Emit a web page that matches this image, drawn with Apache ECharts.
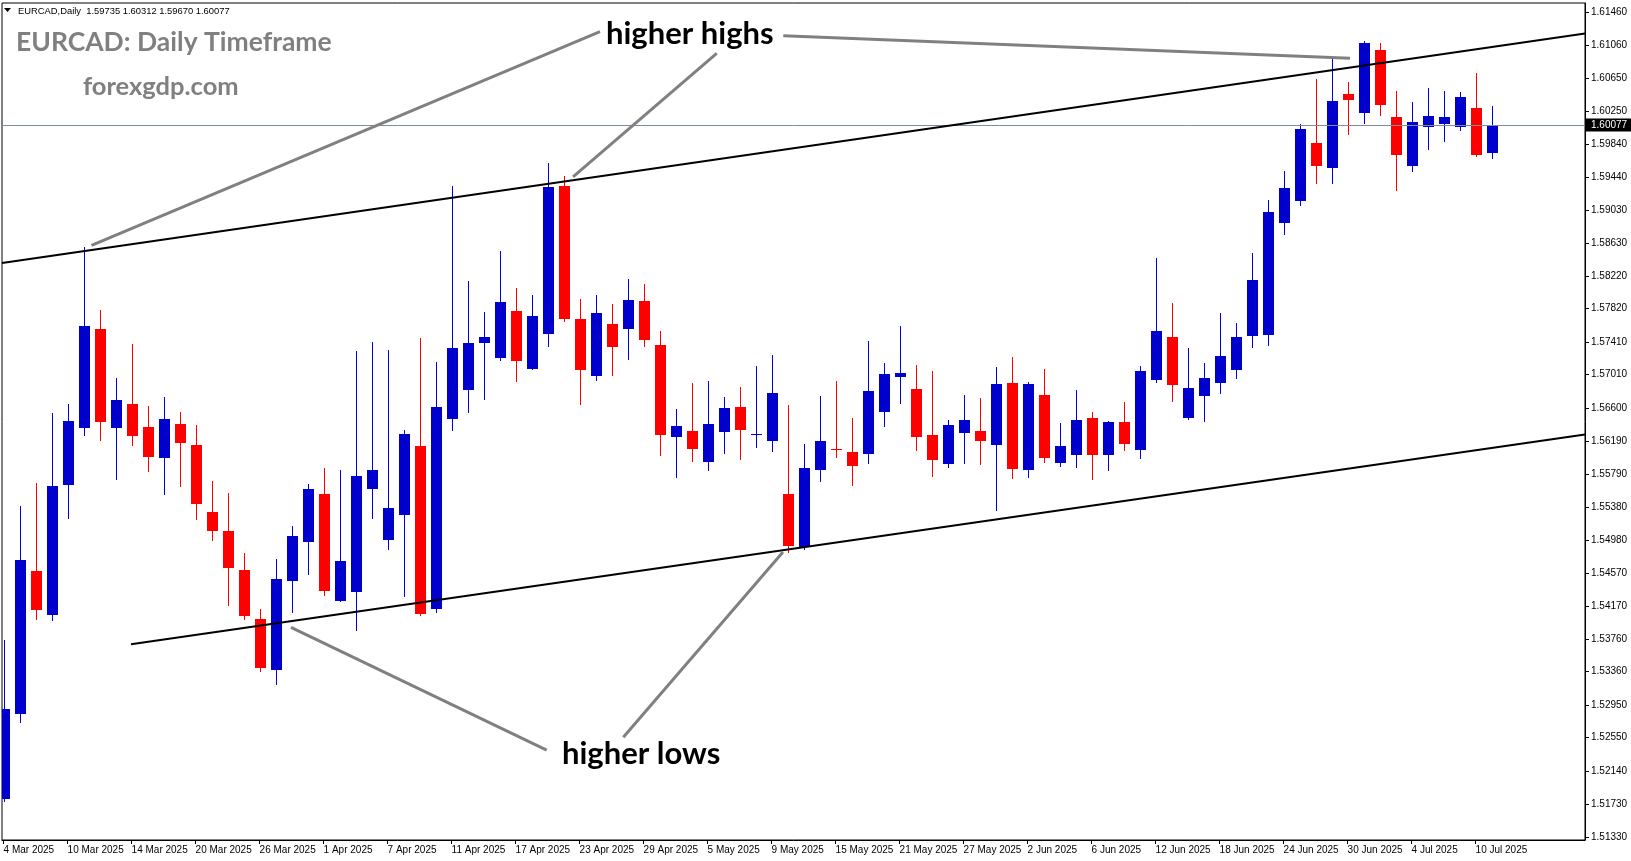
<!DOCTYPE html>
<html>
<head>
<meta charset="utf-8">
<script src="https://cdn.jsdelivr.net/npm/echarts@6/dist/echarts.min.js"></script>
<style>
html,body{margin:0;padding:0;background:#fff;}
#chart{width:1631px;height:861px;}
</style>
</head>
<body>
<div id="chart"></div>
<script>
// ---------- DATA ----------
const dates = [
 '4 Mar 2025','5 Mar 2025','6 Mar 2025','7 Mar 2025','10 Mar 2025','11 Mar 2025','12 Mar 2025','13 Mar 2025','14 Mar 2025','17 Mar 2025',
 '18 Mar 2025','19 Mar 2025','20 Mar 2025','21 Mar 2025','24 Mar 2025','25 Mar 2025','26 Mar 2025','27 Mar 2025','28 Mar 2025','31 Mar 2025',
 '1 Apr 2025','2 Apr 2025','3 Apr 2025','4 Apr 2025','7 Apr 2025','8 Apr 2025','9 Apr 2025','10 Apr 2025','11 Apr 2025','14 Apr 2025',
 '15 Apr 2025','16 Apr 2025','17 Apr 2025','18 Apr 2025','21 Apr 2025','22 Apr 2025','23 Apr 2025','24 Apr 2025','25 Apr 2025','28 Apr 2025',
 '29 Apr 2025','30 Apr 2025','1 May 2025','2 May 2025','5 May 2025','6 May 2025','7 May 2025','8 May 2025','9 May 2025','12 May 2025',
 '13 May 2025','14 May 2025','15 May 2025','16 May 2025','19 May 2025','20 May 2025','21 May 2025','22 May 2025','23 May 2025','26 May 2025',
 '27 May 2025','28 May 2025','29 May 2025','30 May 2025','2 Jun 2025','3 Jun 2025','4 Jun 2025','5 Jun 2025','6 Jun 2025','9 Jun 2025',
 '10 Jun 2025','11 Jun 2025','12 Jun 2025','13 Jun 2025','16 Jun 2025','17 Jun 2025','18 Jun 2025','19 Jun 2025','20 Jun 2025','23 Jun 2025',
 '24 Jun 2025','25 Jun 2025','26 Jun 2025','27 Jun 2025','30 Jun 2025','1 Jul 2025','2 Jul 2025','3 Jul 2025','4 Jul 2025','7 Jul 2025',
 '8 Jul 2025','9 Jul 2025','10 Jul 2025','11 Jul 2025'
];
const open = [
 1.51796,1.52846,1.54598,1.54060,1.55659,1.56360,1.57571,1.56360,1.56650,1.56367,
 1.55991,1.56404,1.56146,1.55323,1.55089,1.54610,1.54008,1.53381,1.54477,1.54960,
 1.55544,1.54233,1.54340,1.55609,1.54982,1.55290,1.56134,1.54135,1.56469,1.56825,
 1.57403,1.57219,1.57792,1.57083,1.57513,1.59328,1.57694,1.56997,1.57633,1.57575,
 1.57915,1.57375,1.56248,1.56318,1.55941,1.56309,1.56613,1.56271,1.56199,1.55544,
 1.54889,1.55842,1.56097,1.56060,1.56039,1.56555,1.56985,1.56834,1.56269,1.55916,
 1.56297,1.56318,1.56150,1.56908,1.55842,1.56760,1.55928,1.56027,1.56478,1.56027,
 1.56429,1.56088,1.56948,1.57473,1.56481,1.56752,1.56911,1.57071,1.57489,1.57501,
 1.58877,1.59148,1.59857,1.59553,1.60459,1.60229,1.60999,1.60176,1.59578,1.60057,
 1.60094,1.60057,1.60287,1.59735
];
const high = [
 1.53750,1.55396,1.55679,1.56539,1.56650,1.58584,1.57805,1.56969,1.57387,1.56625,
 1.56736,1.56551,1.56392,1.55704,1.55556,1.54819,1.54131,1.54750,1.55151,1.55667,
 1.55863,1.55839,1.57301,1.57411,1.57313,1.56330,1.57461,1.57166,1.59328,1.58161,
 1.57780,1.58530,1.58075,1.57989,1.59611,1.59451,1.57940,1.57989,1.57878,1.58186,
 1.58124,1.57543,1.56588,1.56908,1.56932,1.56736,1.56859,1.57117,1.57252,1.56637,
 1.56158,1.56748,1.56932,1.56478,1.57424,1.57153,1.57608,1.57129,1.57055,1.56453,
 1.56760,1.56723,1.57104,1.57227,1.56920,1.57080,1.56416,1.56822,1.56551,1.56441,
 1.56674,1.57117,1.58444,1.57891,1.57338,1.57153,1.57768,1.57645,1.58505,1.59156,
 1.59513,1.60090,1.60643,1.60889,1.60606,1.61104,1.61085,1.60496,1.60360,1.60532,
 1.60496,1.60483,1.60717,1.60312
];
const low = [
 1.51772,1.52742,1.54008,1.54001,1.55249,1.56274,1.56210,1.55733,1.56151,1.55828,
 1.55546,1.55646,1.55242,1.54982,1.54182,1.54014,1.53373,1.53214,1.54096,1.54565,
 1.54307,1.54223,1.53873,1.55253,1.54872,1.54294,1.54053,1.54098,1.56334,1.56555,
 1.56715,1.57190,1.56936,1.57074,1.57366,1.57669,1.56653,1.56948,1.57010,1.57206,
 1.57366,1.56027,1.55756,1.55953,1.55842,1.56051,1.55978,1.56125,1.56076,1.54828,
 1.54864,1.55707,1.56002,1.55658,1.55928,1.56383,1.56666,1.56088,1.55769,1.55879,
 1.55928,1.55916,1.55351,1.55744,1.55756,1.55941,1.55892,1.55879,1.55732,1.55842,
 1.56088,1.55990,1.56924,1.56690,1.56471,1.56445,1.56789,1.56973,1.57354,1.57378,
 1.58742,1.59099,1.59369,1.59369,1.59971,1.60106,1.60204,1.59283,1.59516,1.59787,
 1.59885,1.60020,1.59700,1.59670
];
const close = [
 1.52902,1.54733,1.54123,1.55642,1.56441,1.57608,1.56432,1.56699,1.56260,1.56001,
 1.56465,1.56173,1.55415,1.55092,1.54637,1.54046,1.53410,1.54499,1.55028,1.55605,
 1.54356,1.54721,1.55765,1.55839,1.55372,1.56281,1.54073,1.56613,1.57338,1.57399,
 1.57473,1.57903,1.57182,1.57731,1.59316,1.57694,1.57071,1.57768,1.57354,1.57928,
 1.57440,1.56272,1.56379,1.56100,1.56404,1.56601,1.56334,1.56284,1.56785,1.54909,
 1.55863,1.56195,1.56088,1.55892,1.56809,1.57018,1.57031,1.56248,1.55965,1.56392,
 1.56453,1.56199,1.56895,1.55855,1.56895,1.55990,1.56134,1.56453,1.56027,1.56429,
 1.56162,1.57055,1.57547,1.56887,1.56846,1.56969,1.57239,1.57473,1.58173,1.59009,
 1.59304,1.60029,1.59578,1.60373,1.60389,1.61085,1.60327,1.59713,1.60115,1.60188,
 1.60176,1.60422,1.59713,1.60077
];
const priceTicks = [
 1.51330,1.51730,1.52140,1.52550,1.52950,1.53360,1.53760,1.54170,1.54570,1.54980,
 1.55380,1.55790,1.56190,1.56600,1.57010,1.57410,1.57820,1.58220,1.58630,1.59030,
 1.59440,1.59840,1.60250,1.60650,1.61060,1.61460
];
// trend lines (bar index, price)
const upperTrend = [[-0.1, 1.58382], [98.8375, 1.61202]];
const lowerTrend = [[7.96, 1.53699], [98.8375, 1.56275]];
// annotation pointer lines (bar index, price)
const highsPointers = [
 [[37.275, 1.61224], [5.494, 1.58598]],
 [[44.569, 1.60959], [35.5875, 1.59439]],
 [[48.731, 1.61175], [84.15, 1.60897]]
];
const lowsPointers = [
 [[33.944, 1.52398], [17.9625, 1.53904]],
 [[38.731, 1.52554], [48.7125, 1.54831]]
];
const symbolName = 'EURCAD,Daily';
const titleText = 'EURCAD: Daily Timeframe';
const siteText = 'forexgdp.com';
const highsText = 'higher highs';
const lowsText = 'higher lows';

// ---------- CHART ----------
const BULL = '#0000cc', BEAR = '#ff0000';
const AXIS_FONT = '"Liberation Sans", Arial, sans-serif';
const BIG_FONT = 'Lato, "Open Sans", sans-serif';
const last = dates.length - 1;
const tickIdx = dates.map((d, i) => i).filter(i => i % 4 === 0);
const candleData = dates.map((d, i) => [i, open[i], close[i], low[i], high[i]]);

function renderCandle(params, api) {
  const i = api.value(0), o = api.value(1), c = api.value(2), l = api.value(3), h = api.value(4);
  const pTop = api.coord([i, Math.max(o, c)]);
  const pBot = api.coord([i, Math.min(o, c)]);
  const pH = api.coord([i, h]);
  const pL = api.coord([i, l]);
  const cx = Math.round(pTop[0]);
  const col = c >= o ? BULL : BEAR;
  const yT = Math.round(pTop[1]);
  const yB = Math.max(Math.round(pBot[1]), yT + 1);
  const yH = Math.round(pH[1]);
  const yL = Math.round(pL[1]);
  return {
    type: 'group',
    children: [
      { type: 'rect', shape: { x: cx, y: yH, width: 1, height: Math.max(yL - yH + 1, 1) }, style: { fill: col } },
      { type: 'rect', shape: { x: cx - 5, y: yT, width: 11, height: yB - yT }, style: { fill: col } }
    ]
  };
}

function seg(pts, color, width, z) {
  return { type: 'line', data: pts, symbol: 'none', showSymbol: false, silent: true,
           lineStyle: { color: color, width: width }, z: z, clip: true, animation: false };
}

const header = symbolName + '  ' + [open[last], high[last], low[last], close[last]].map(v => v.toFixed(5)).join(' ');

const chart = echarts.init(document.getElementById('chart'), null, { renderer: 'canvas' });
chart.setOption({
  animation: false,
  backgroundColor: '#ffffff',
  grid: { left: 2, right: 46, top: 3, bottom: 21, show: true, borderColor: '#000', borderWidth: 1, backgroundColor: '#fff' },
  xAxis: {
    type: 'value', min: -0.1, max: 98.8375,
    splitLine: { show: false },
    axisLine: { show: true, onZero: false, lineStyle: { color: '#000', width: 1 } },
    axisTick: { show: true, length: 4, customValues: tickIdx, lineStyle: { color: '#000' } },
    axisLabel: { customValues: tickIdx, formatter: v => dates[Math.round(v)] || '', align: 'left',
                 margin: 5, color: '#000', fontSize: 10, fontFamily: AXIS_FONT }
  },
  yAxis: {
    type: 'value', position: 'right', min: 1.512925, max: 1.615767, scale: true,
    splitLine: { show: false },
    axisLine: { show: true, onZero: false, lineStyle: { color: '#000', width: 1 } },
    axisTick: { show: true, inside: false, length: 4, customValues: priceTicks, lineStyle: { color: '#000' } },
    axisLabel: { customValues: priceTicks, formatter: v => v.toFixed(5), color: '#000',
                 fontSize: 10, fontFamily: AXIS_FONT, margin: 6 }
  },
  series: [
    {
      type: 'custom', name: 'EURCAD', data: candleData, renderItem: renderCandle,
      encode: { x: 0, y: [1, 2, 3, 4] }, clip: true, silent: true, z: 2,
      markLine: {
        silent: true, symbol: 'none', animation: false, precision: 5,
        lineStyle: { color: '#7f8c9c', width: 1, type: 'solid' },
        data: [{ yAxis: close[last] }],
        label: { show: true, position: 'end', distance: 1, formatter: () => close[last].toFixed(5),
                 backgroundColor: '#000', color: '#fff', fontSize: 10, fontFamily: AXIS_FONT,
                 padding: [2, 5, 1, 5] }
      }
    },
    seg(upperTrend, '#000', 2, 5),
    seg(lowerTrend, '#000', 2, 5),
    ...highsPointers.map(p => seg(p, '#808080', 3, 6)),
    ...lowsPointers.map(p => seg(p, '#808080', 3, 6))
  ],
  graphic: [
    { type: 'polygon', shape: { points: [[4, 8], [11, 8], [7.5, 12]] }, style: { fill: '#000' }, silent: true },
    { type: 'text', x: 18, y: 11, silent: true,
      style: { text: header, fill: '#000', fontSize: 9.4, fontFamily: AXIS_FONT, verticalAlign: 'middle' } },
    { type: 'text', x: 16, y: 42, silent: true,
      style: { text: titleText, fill: '#808080', fontSize: 26.5, fontWeight: 'bold', fontFamily: BIG_FONT, verticalAlign: 'middle' } },
    { type: 'text', x: 83, y: 87, silent: true,
      style: { text: siteText, fill: '#808080', fontSize: 25.5, fontWeight: 'bold', fontFamily: BIG_FONT, verticalAlign: 'middle' } },
    { type: 'text', x: 606, y: 34, silent: true, z: 10,
      style: { text: highsText, fill: '#000', fontSize: 31, fontWeight: 'bold', fontFamily: BIG_FONT, verticalAlign: 'middle' } },
    { type: 'text', x: 562, y: 754, silent: true, z: 10,
      style: { text: lowsText, fill: '#000', fontSize: 31, fontWeight: 'bold', fontFamily: BIG_FONT, verticalAlign: 'middle' } }
  ]
});
</script>
</body>
</html>
